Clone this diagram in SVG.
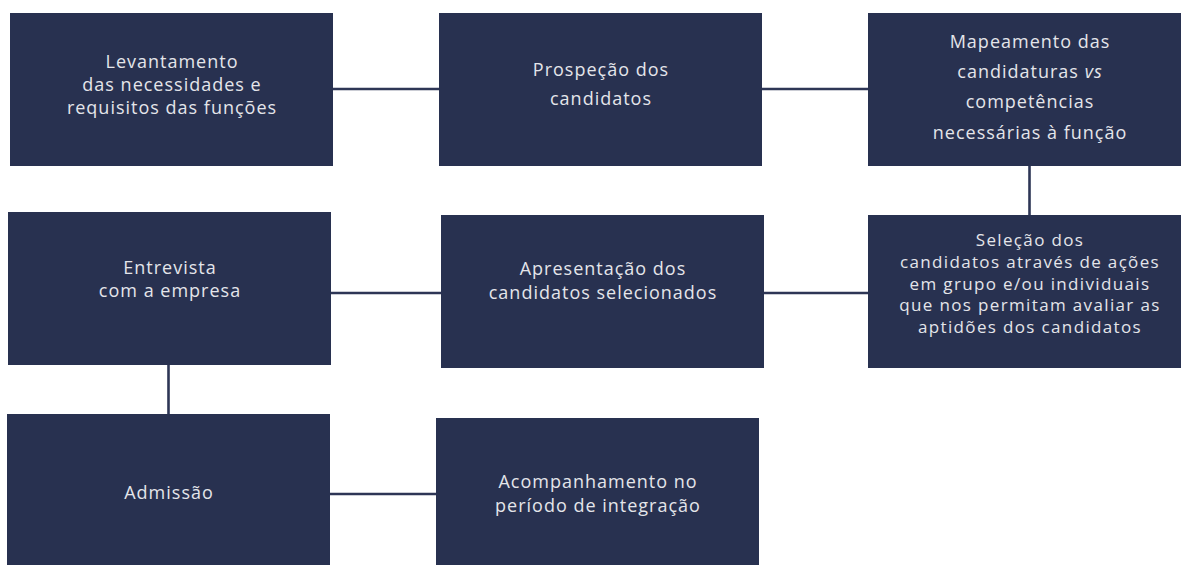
<svg xmlns="http://www.w3.org/2000/svg" width="1181" height="565" viewBox="0 0 1181 565">
<style>
.box{fill:#283150}
.t{font-family:"Open Sans","Liberation Sans",sans-serif;font-size:18px;letter-spacing:1px;fill:#e4e5ea;text-anchor:middle}
.s{font-size:17px;letter-spacing:1.35px}
.c{stroke:#2e3656;stroke-width:2.6;fill:none}
</style>
<rect width="1181" height="565" fill="#ffffff"/>
<g id="connectors">
<line class="c" x1="333" y1="89" x2="439" y2="89"/>
<line class="c" x1="762" y1="89" x2="868" y2="89"/>
<line class="c" x1="1029.5" y1="166" x2="1029.5" y2="215"/>
<line class="c" x1="764" y1="293" x2="868" y2="293"/>
<line class="c" x1="331" y1="293" x2="441" y2="293"/>
<line class="c" x1="168.5" y1="365" x2="168.5" y2="414"/>
<line class="c" x1="330" y1="494" x2="436" y2="494"/>
</g>
<g id="n1">
<rect class="box" x="10" y="13" width="323" height="153"/>
<text class="t"><tspan x="172" y="68">Levantamento</tspan><tspan x="172" y="91">das necessidades e</tspan><tspan x="172" y="114">requisitos das funções</tspan></text>
</g>
<g id="n2">
<rect class="box" x="439" y="13" width="323" height="153"/>
<text class="t"><tspan x="601" y="76">Prospeção dos</tspan><tspan x="601" y="105">candidatos</tspan></text>
</g>
<g id="n3">
<rect class="box" x="868" y="13" width="323" height="153"/>
<text class="t"><tspan x="1030" y="48">Mapeamento das</tspan><tspan x="1030" y="78">candidaturas <tspan font-style="italic">vs</tspan></tspan><tspan x="1030" y="108">competências</tspan><tspan x="1030" y="139">necessárias à função</tspan></text>
</g>
<g id="n4">
<rect class="box" x="868" y="215" width="323" height="153"/>
<text class="t s"><tspan x="1030" y="246">Seleção dos</tspan><tspan x="1030" y="268">candidatos através de ações</tspan><tspan x="1030" y="289.5">em grupo e/ou individuais</tspan><tspan x="1030" y="311">que nos permitam avaliar as</tspan><tspan x="1030" y="333">aptidões dos candidatos</tspan></text>
</g>
<g id="n5">
<rect class="box" x="441" y="215" width="323" height="153"/>
<text class="t"><tspan x="603" y="275">Apresentação dos</tspan><tspan x="603" y="299">candidatos selecionados</tspan></text>
</g>
<g id="n6">
<rect class="box" x="8" y="212" width="323" height="153"/>
<text class="t"><tspan x="170" y="274">Entrevista</tspan><tspan x="170" y="297">com a empresa</tspan></text>
</g>
<g id="n7">
<rect class="box" x="7" y="414" width="323" height="160"/>
<text class="t"><tspan x="169" y="499">Admissão</tspan></text>
</g>
<g id="n8">
<rect class="box" x="436" y="418" width="323" height="160"/>
<text class="t"><tspan x="598" y="488">Acompanhamento no</tspan><tspan x="598" y="512">período de integração</tspan></text>
</g>
</svg>
